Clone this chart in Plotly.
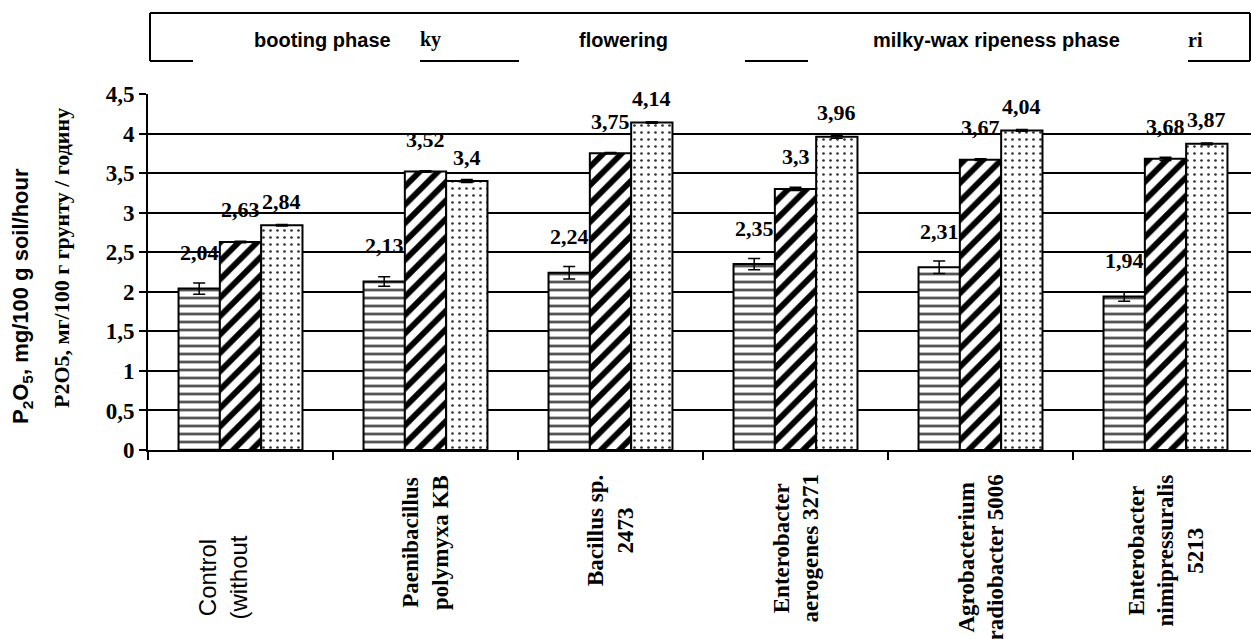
import plotly.graph_objects as go

# ---------------- data ----------------
categories = ["Control (without", "Paenibacillus polymyxa KB", "Bacillus sp. 2473",
              "Enterobacter aerogenes 3271", "Agrobacterium radiobacter 5006",
              "Enterobacter nimipressuralis 5213"]
tick_labels = ["Control<br>(without", "Paenibacillus<br>polymyxa KB", "Bacillus sp.<br>2473",
               "Enterobacter<br>aerogenes 3271", "Agrobacterium<br>radiobacter 5006",
               "Enterobacter<br>nimipressuralis<br>5213"]
series_names = ["booting phase", "flowering", "milky-wax ripeness phase"]
booting = [2.04, 2.13, 2.24, 2.35, 2.31, 1.94]
flowering = [2.63, 3.52, 3.75, 3.30, 3.67, 3.68]
milky = [2.84, 3.40, 4.14, 3.96, 4.04, 3.87]
err_booting = [0.07, 0.06, 0.08, 0.07, 0.08, 0.06]
err_flowering = [0.01, 0.01, 0.01, 0.02, 0.01, 0.02]
err_milky = [0.01, 0.02, 0.01, 0.02, 0.01, 0.01]
y_title_en = "P<sub>2</sub>O<sub>5</sub>, mg/100 g soil/hour"
y_title_ua = "P2O5, мг/100 г грунту / годину"

# ---------------- geometry helpers ----------------
W, H = 1251, 639
L, R, T, B = 148, 0, 94, 189
PW, PH = W - L - R, H - T - B
CAT_PX = 185.0


def px_x(px):
    return (px - L) / PW


def px_y(py):
    return (H - B - py) / PH


serif = "Liberation Serif, Times New Roman, serif"
sans = "Liberation Sans, Arial, sans-serif"

styles = [
    dict(shape="-", size=8, solidity=0.35, fgcolor="#555555"),
    dict(shape="/", size=13, solidity=0.45, fgcolor="#000000"),
    dict(shape=".", size=7, solidity=0.12, fgcolor="#333333"),
]
label_shift = [36, 32, 24]

fig = go.Figure()
all_vals = [booting, flowering, milky]
all_errs = [err_booting, err_flowering, err_milky]
for name, vals, errs, st in zip(series_names, all_vals, all_errs, styles):
    fig.add_trace(go.Bar(
        x=categories, y=vals, name=name,
        marker=dict(color="white", line=dict(color="black", width=2),
                    pattern=dict(shape=st["shape"], size=st["size"],
                                 solidity=st["solidity"], fgcolor=st["fgcolor"],
                                 bgcolor="white", fillmode="replace")),
        error_y=dict(type="data", array=errs, visible=True, color="black",
                     thickness=1.5, width=6),
        showlegend=False,
    ))

bar_px = CAT_PX * 0.67 / 3
annotations = []
for j, (vals, ys) in enumerate(zip(all_vals, label_shift)):
    for c, v in zip(categories, vals):
        annotations.append(dict(
            x=c, y=v, xref="x", yref="y", text="<b>%s</b>" % f"{v:g}".replace(".", ","),
            showarrow=False, xshift=(j - 1) * bar_px, yshift=ys,
            xanchor="center", yanchor="middle",
            font=dict(family=serif, size=22, color="black")))

# x-axis category labels (rotated)
for i, (c, t) in enumerate(zip(categories, tick_labels)):
    if i == 0:
        annotations.append(dict(
            x=c, y=px_y(578), xref="x", yref="paper", text=t, textangle=-90,
            showarrow=False, xshift=-18, xanchor="center", yanchor="middle", align="center",
            font=dict(family=sans, size=24, color="black")))
    else:
        annotations.append(dict(
            x=c, y=0, xref="x", yref="y", text="<b>%s</b>" % t, textangle=-90,
            showarrow=False, yshift=-23, xanchor="center", yanchor="top", align="center",
            font=dict(family=serif, size=23, color="black")))

# y-axis titles
annotations.append(dict(x=px_x(22), y=px_y(296), xref="paper", yref="paper",
                        text="<b>%s</b>" % y_title_en, textangle=-90, showarrow=False,
                        xanchor="center", yanchor="middle",
                        font=dict(family=sans, size=22, color="black")))
annotations.append(dict(x=px_x(61), y=px_y(258), xref="paper", yref="paper",
                        text="<b>%s</b>" % y_title_ua, textangle=-90, showarrow=False,
                        xanchor="center", yanchor="middle",
                        font=dict(family=serif, size=22, color="black")))

# legend-like box texts
legend_texts = [(series_names[0], 322, sans), ("ky", 430, serif), (series_names[1], 623, sans),
                (series_names[2], 996, sans), ("ri", 1195, serif)]
for txt, cx, fam in legend_texts:
    annotations.append(dict(x=px_x(cx), y=px_y(40), xref="paper", yref="paper",
                            text="<b>%s</b>" % txt, showarrow=False,
                            xanchor="center", yanchor="middle",
                            font=dict(family=fam, size=20, color="black")))

shapes = []
line_style = dict(color="black", width=2)
# box: left, top, right
shapes.append(dict(type="line", xref="paper", yref="paper", x0=px_x(150), x1=px_x(150),
                   y0=px_y(13), y1=px_y(61), line=line_style))
shapes.append(dict(type="line", xref="paper", yref="paper", x0=px_x(150), x1=px_x(1250),
                   y0=px_y(13), y1=px_y(13), line=line_style))
shapes.append(dict(type="line", xref="paper", yref="paper", x0=px_x(1250), x1=px_x(1250),
                   y0=px_y(13), y1=px_y(61), line=line_style))
for a, b in [(150, 193), (420, 519), (745, 808), (1188, 1250)]:
    shapes.append(dict(type="line", xref="paper", yref="paper", x0=px_x(a), x1=px_x(b),
                       y0=px_y(61), y1=px_y(61), line=line_style))

fig.update_layout(
    width=W, height=H,
    margin=dict(l=L, r=R, t=T, b=B, pad=0),
    paper_bgcolor="white", plot_bgcolor="white",
    barmode="group", bargap=0.33, bargroupgap=0,
    separators=", ",
    annotations=annotations, shapes=shapes,
    xaxis=dict(type="category", range=[-0.5, -0.5 + PW / CAT_PX],
               showticklabels=False, ticks="outside", tickson="boundaries",
               ticklen=8, tickwidth=2, tickcolor="black",
               showline=True, linecolor="black", linewidth=2, showgrid=False),
    yaxis=dict(range=[0, 4.5], dtick=0.5, tick0=0, showgrid=True, gridcolor="black",
               gridwidth=1.5, showline=True, linecolor="black", linewidth=2,
               ticks="outside", ticklen=7, tickwidth=2, tickcolor="black",
               zeroline=False,
               tickfont=dict(family=serif, size=23, color="black", weight="bold")),
)

fig.write_html("out.html", config={"displayModeBar": False},
               post_script="document.body.style.margin='0';")
